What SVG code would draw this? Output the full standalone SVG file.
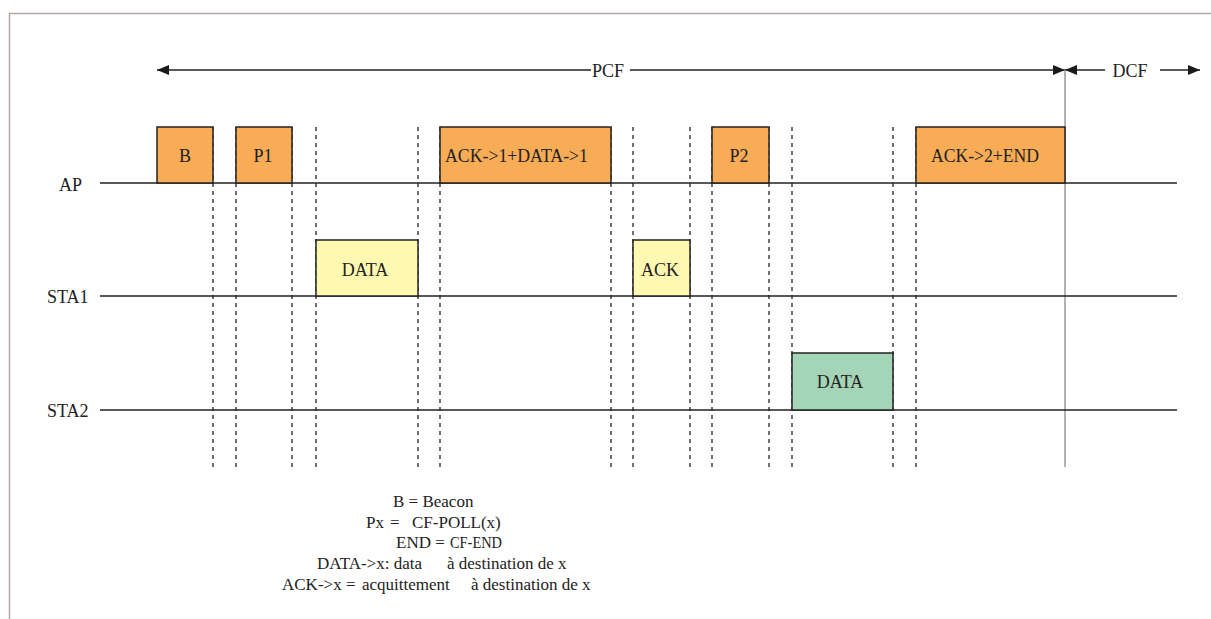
<svg xmlns="http://www.w3.org/2000/svg" width="1211" height="619" viewBox="0 0 1211 619">
<defs>
<marker id="ah" viewBox="0 0 12 10" refX="12" refY="5" markerWidth="12" markerHeight="10" markerUnits="userSpaceOnUse" orient="auto-start-reverse">
<path d="M0,0 L12,5 L0,10 Z" fill="#1a1a1a"/>
</marker>
<style>
text{font-family:"Liberation Serif","Times New Roman",serif;font-size:18px;fill:#222}
.lbl{text-anchor:middle}
.leg{font-size:17px}
.line{stroke:#222;stroke-width:1.5;fill:none}
.dash{stroke:#222;stroke-width:1.3;stroke-dasharray:4 4;fill:none}
.box{stroke:#222;stroke-width:1.5}
.or{fill:#F7AC55}
.ye{fill:#FFF8B0}
.gr{fill:#A4D5B6}
</style>
</defs>
<rect width="1211" height="619" fill="#fff"/>
<path d="M9.5,619 V13.5 H1211" fill="none" stroke="#b3aaa6" stroke-width="1.5"/>

<g id="connectors">
<line class="line" x1="591" y1="70" x2="157" y2="70" marker-end="url(#ah)"/>
<line class="line" x1="630" y1="70" x2="1065" y2="70" marker-end="url(#ah)"/>
<line class="line" x1="1105" y1="70" x2="1065" y2="70" marker-end="url(#ah)"/>
<line class="line" x1="1160" y1="70" x2="1200" y2="70" marker-end="url(#ah)"/>
<line x1="1065" y1="70" x2="1065" y2="467" stroke="#999" stroke-width="1.5"/>
<line class="line" x1="100" y1="183" x2="1177" y2="183"/>
<line class="line" x1="100" y1="296" x2="1177" y2="296"/>
<line class="line" x1="100" y1="410" x2="1177" y2="410"/>
<g class="dash">
<line x1="213" y1="127" x2="213" y2="467"/>
<line x1="236" y1="127" x2="236" y2="467"/>
<line x1="292" y1="127" x2="292" y2="467"/>
<line x1="316" y1="127" x2="316" y2="467"/>
<line x1="418" y1="127" x2="418" y2="467"/>
<line x1="440" y1="127" x2="440" y2="467"/>
<line x1="611" y1="127" x2="611" y2="467"/>
<line x1="633" y1="127" x2="633" y2="467"/>
<line x1="690" y1="127" x2="690" y2="467"/>
<line x1="712" y1="127" x2="712" y2="467"/>
<line x1="769" y1="127" x2="769" y2="467"/>
<line x1="792" y1="127" x2="792" y2="467"/>
<line x1="893" y1="127" x2="893" y2="467"/>
<line x1="916" y1="127" x2="916" y2="467"/>
</g>
</g>

<g id="period-labels">
<text class="lbl" x="608" y="77">PCF</text>
<text class="lbl" x="1130" y="77">DCF</text>
</g>

<g id="row-labels">
<text x="59" y="191">AP</text>
<text x="47" y="303">STA1</text>
<text x="47" y="417">STA2</text>
</g>

<g id="ap-B"><rect class="box or" x="157" y="127" width="56" height="56"/><text class="lbl" x="185" y="162">B</text></g>
<g id="ap-P1"><rect class="box or" x="236" y="127" width="56" height="56"/><text class="lbl" x="263" y="162">P1</text></g>
<g id="ap-ack1"><rect class="box or" x="440" y="127" width="171" height="56"/><text x="445" y="162" textLength="143" lengthAdjust="spacingAndGlyphs">ACK-&gt;1+DATA-&gt;1</text></g>
<g id="ap-P2"><rect class="box or" x="712" y="127" width="57" height="56"/><text class="lbl" x="739" y="162">P2</text></g>
<g id="ap-ack2"><rect class="box or" x="916" y="127" width="149" height="56"/><text x="931" y="162" textLength="108" lengthAdjust="spacingAndGlyphs">ACK-&gt;2+END</text></g>

<g id="sta1-data"><rect class="box ye" x="316" y="240" width="102" height="56"/><text class="lbl" x="365" y="276">DATA</text></g>
<g id="sta1-ack"><rect class="box ye" x="633" y="240" width="57" height="56"/><text class="lbl" x="660" y="276">ACK</text></g>

<g id="sta2-data"><rect class="box gr" x="792" y="353" width="101" height="57"/><text class="lbl" x="840" y="388">DATA</text></g>

<g id="legend" class="leg">
<text class="leg" x="393" y="507">B = Beacon</text>
<text class="leg" y="528"><tspan x="366">Px</tspan><tspan x="390">=</tspan><tspan x="412">CF-POLL(x)</tspan></text>
<text class="leg" y="548"><tspan x="396">END =</tspan><tspan x="450" textLength="52" lengthAdjust="spacingAndGlyphs">CF-END</tspan></text>
<text class="leg" y="569"><tspan x="317">DATA-&gt;x: data</tspan><tspan x="447">à destination de x</tspan></text>
<text class="leg" y="590"><tspan x="282">ACK-&gt;x =</tspan><tspan x="362">acquittement</tspan><tspan x="471">à destination de x</tspan></text>
</g>
</svg>
